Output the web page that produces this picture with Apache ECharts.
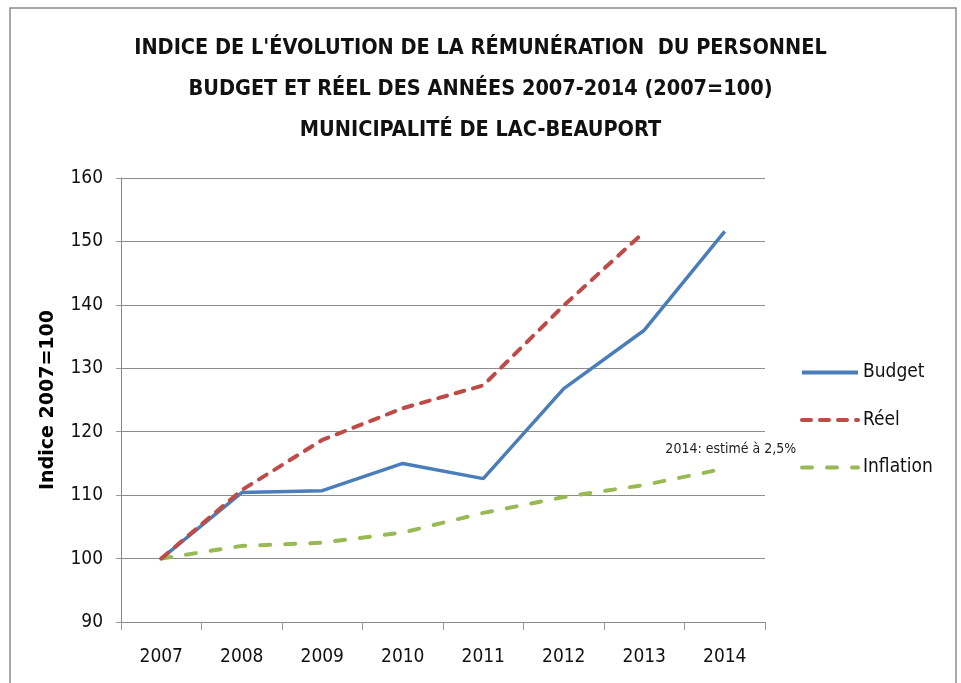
<!DOCTYPE html>
<html><head><meta charset="utf-8">
<script src="https://cdn.jsdelivr.net/npm/echarts@6/dist/echarts.min.js"></script>
<style>html,body{margin:0;padding:0;background:#fff}#c{width:961px;height:683px}</style>
</head><body><div id="c"></div>
<script>
const years = ['2007','2008','2009','2010','2011','2012','2013','2014'];
const budget = [100, 110.4, 110.7, 115.0, 112.6, 126.8, 136.0, 151.6];
const reel = [100, 110.8, 118.7, 123.7, 127.3, 139.9, 151.5, null];
const inflation = [100, 102.0, 102.5, 104.1, 107.2, 109.7, 111.6, 114.2];
const yTicks = [90, 100, 110, 120, 130, 140, 150, 160];
const titleLines = ["INDICE DE L'ÉVOLUTION DE LA RÉMUNÉRATION  DU PERSONNEL", "BUDGET ET RÉEL DES ANNÉES 2007-2014 (2007=100)", "MUNICIPALITÉ DE LAC-BEAUPORT"];
const note = '2014: estimé à 2,5%';

const F = "'DejaVu Sans Condensed','Liberation Sans Narrow',sans-serif";
const chart = echarts.init(document.getElementById('c'), null, {renderer:'canvas'});
chart.setOption({
  animation:false,
  graphic:[{type:'rect', shape:{x:10,y:8,width:946,height:700}, style:{fill:'none', stroke:'#8c8c8c', lineWidth:1.5}, silent:true}],
  title:{text:titleLines.join('\n'), left:'center', top:23, textStyle:{fontFamily:F, fontSize:21.5, fontWeight:'bold', color:'#111', lineHeight:41}},
  grid:{left:121, right:196, top:178, bottom:61},
  legend:{orient:'vertical', left:800, top:363, padding:0, itemWidth:56, itemHeight:14, itemGap:28.5,
    itemStyle:{opacity:0}, lineStyle:{width:4},
    textStyle:{fontFamily:F, fontSize:19, color:'#111'}, data:['Budget','Réel','Inflation']},
  xAxis:{type:'category', data:years, boundaryGap:true,
    axisLine:{lineStyle:{color:'#888'}}, axisTick:{show:true, length:8, lineStyle:{color:'#999'}},
    axisLabel:{fontFamily:F, fontSize:19, color:'#111', margin:26}},
  yAxis:{type:'value', min:yTicks[0], max:yTicks[yTicks.length-1], interval:10,
    name:'Indice 2007=100', nameLocation:'middle', nameGap:63, nameRotate:90,
    nameTextStyle:{fontFamily:"'DejaVu Sans',sans-serif", fontSize:19, fontWeight:'bold', color:'#000'},
    axisLine:{show:true, lineStyle:{color:'#888'}}, axisTick:{show:true, length:5, lineStyle:{color:'#999'}},
    splitLine:{lineStyle:{color:'#8c8c8c', width:1}},
    axisLabel:{fontFamily:F, fontSize:19, color:'#111', margin:18}},
  series:[
    {name:'Budget', type:'line', data:budget, symbol:'none', lineStyle:{color:'#4A7EBB', width:3.5}, itemStyle:{color:'#4A7EBB'}, z:3},
    {name:'Réel', type:'line', data:reel, symbol:'none', lineStyle:{color:'#BE4B48', width:4, type:[9,9], cap:'round'}, itemStyle:{color:'#BE4B48'}, z:4},
    {name:'Inflation', type:'line', data:inflation, symbol:'none', lineStyle:{color:'#98B954', width:4, type:[10,15], cap:'round'}, itemStyle:{color:'#98B954'}, z:2,
      markPoint:{symbol:'circle', symbolSize:0, silent:true,
        data:[{coord:[years[years.length-1], inflation[inflation.length-1]], value:note}],
        label:{show:true, formatter:note, position:'top', distance:12, offset:[6,0], fontFamily:F, fontSize:14, color:'#222'}}}
  ]
});
</script></body></html>
